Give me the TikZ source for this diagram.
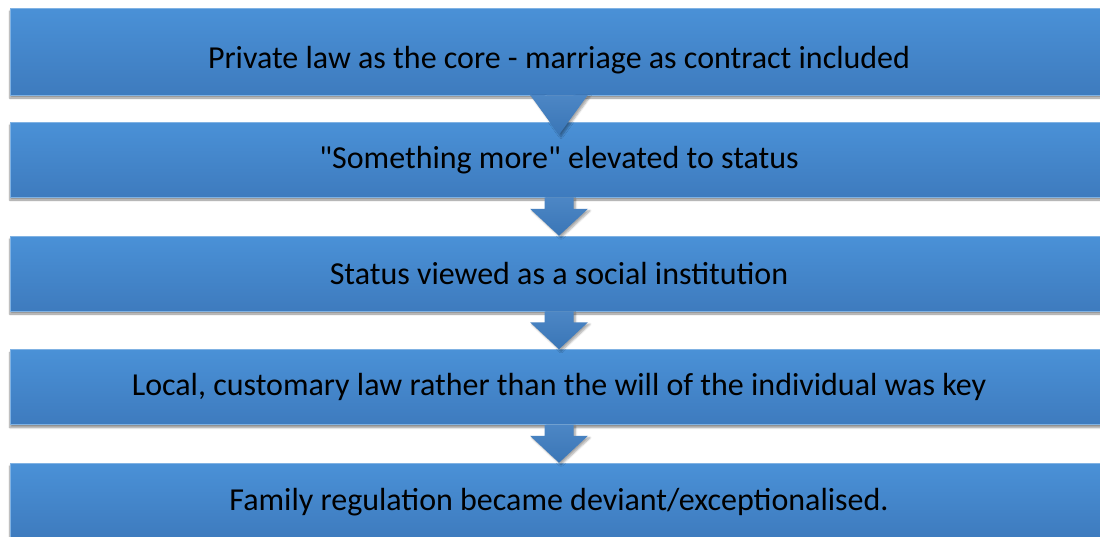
\documentclass[tikz,border=0pt]{standalone}
\usepackage{fontspec}
\setmainfont{Carlito}
\usetikzlibrary{calc,shadows.blur}
\definecolor{boxtop}{HTML}{4A91D7}
\definecolor{boxbottom}{HTML}{3E7BBE}
\definecolor{arrowblue}{HTML}{3D7CC0}
\begin{document}
\begin{tikzpicture}[x=1pt, y=-1pt, level box/.style={rectangle,minimum width=1098pt,minimum height=75pt,inner sep=0pt,top color=boxtop,bottom color=boxbottom,draw=boxtop!70!white,line width=.5pt,blur shadow={shadow xshift=0pt,shadow yshift=-3pt,shadow opacity=45,shadow blur steps=6}},
arrow fill/.style={top color=arrowblue!92!white,bottom color=arrowblue!95!black,blur shadow={shadow xshift=2pt,shadow yshift=-2pt,shadow opacity=35,shadow blur steps=5}},
block arrow/.style={to path={($(\tikztostart.south)+(-14.5,0)$) -- ($(\tikztotarget.north)+(-14.5,-27)$) -- ($(\tikztotarget.north)+(-29,-27)$) -- ($(\tikztotarget.north)+(0,#1)$) -- ($(\tikztotarget.north)+(29,-27)$) -- ($(\tikztotarget.north)+(14.5,-27)$) -- ($(\tikztostart.south)+(14.5,0)$) -- cycle}},
block arrow/.default=0]
\useasboundingbox (0,0) rectangle (1100,536);
\clip (0,0) rectangle (1100,536);
\begin{scope}[every node/.style={level box,font=\fontsize{32}{38}\selectfont}]
\node (s1) at (559,51.5) [minimum height=87pt,text height=40pt,text depth=7pt] {Private law as the core - marriage as contract included};
\node (s2) at (559,159.5) [text height=24pt] {\textquotedbl Something more\textquotedbl{} elevated to status};
\node (s3) at (559,273.5) {Status viewed as a social institution};
\node (s4) at (559,387) {Local, customary law rather than the will of the individual was key};
\node (s5) at (559,500.5) [text height=26pt] {Family regulation became deviant/exceptionalised.};
\end{scope}
\begin{scope}
\path[arrow fill] (s1) to[block arrow=13] (s2);
\path[arrow fill] (s2) to[block arrow] (s3);
\path[arrow fill] (s3) to[block arrow] (s4);
\path[arrow fill] (s4) to[block arrow] (s5);
\end{scope}
\end{tikzpicture}
\end{document}
